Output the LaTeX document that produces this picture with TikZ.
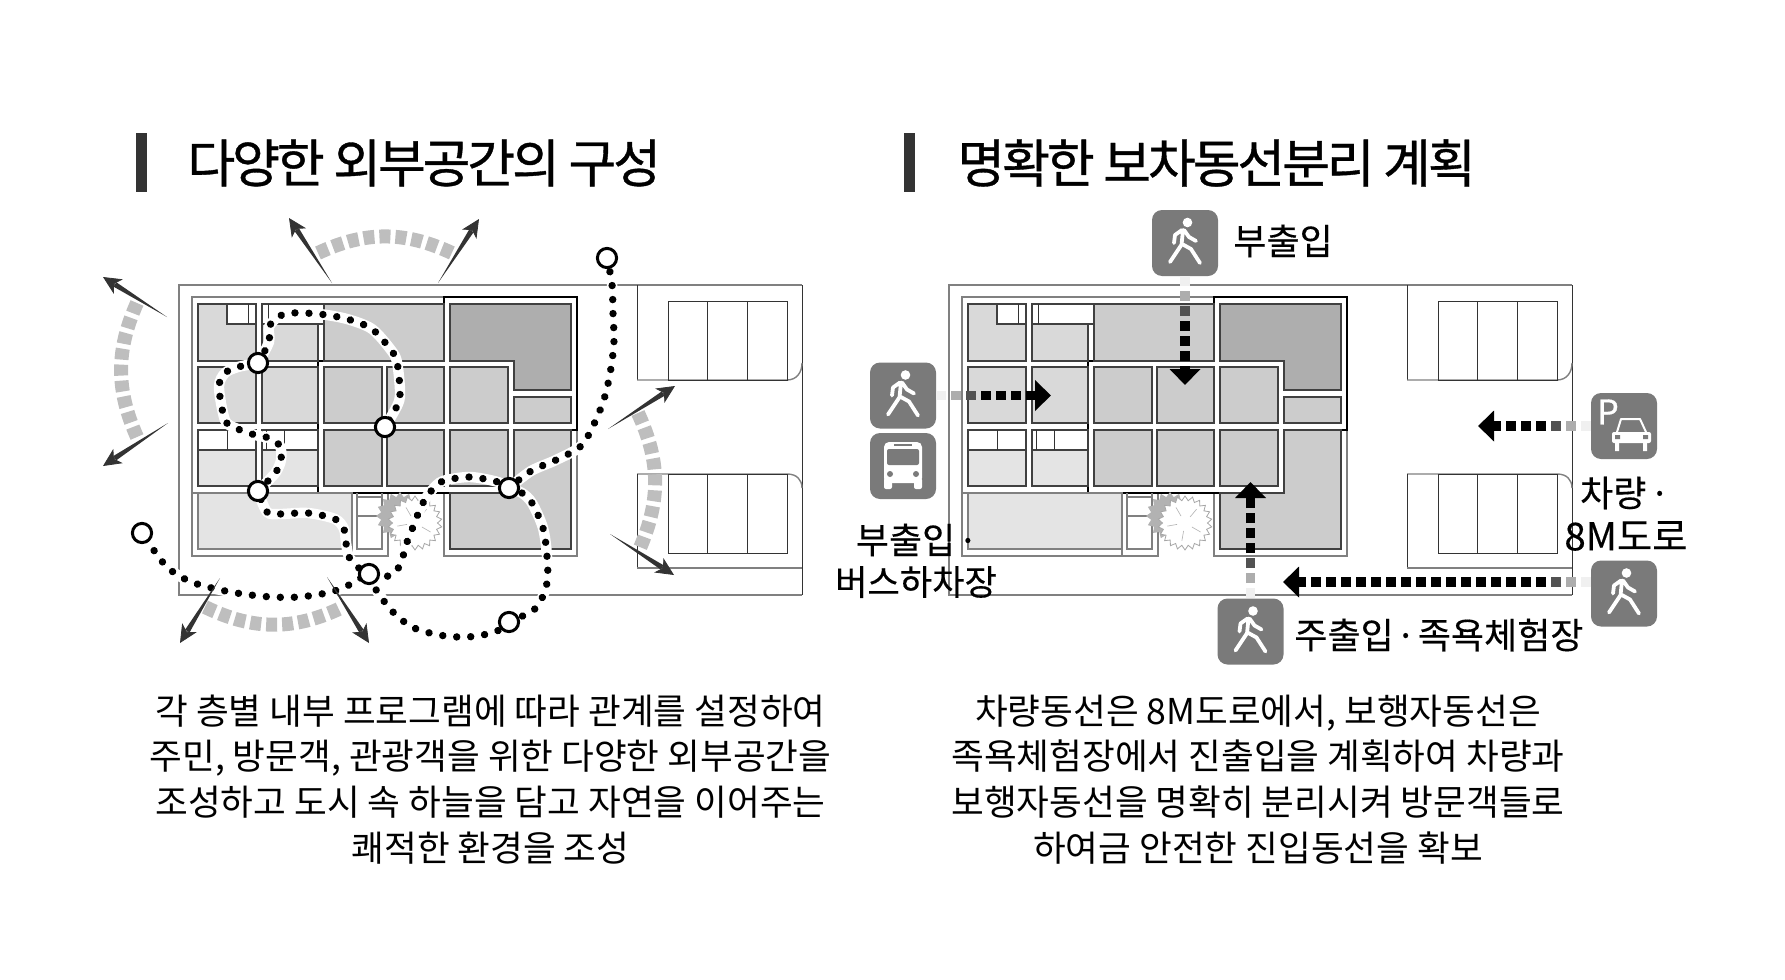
\documentclass[tikz,border=0pt]{standalone}
\usepackage{fontspec}
\setmainfont{Noto Sans CJK KR}
\usetikzlibrary{positioning,arrows.meta,calc,backgrounds,shapes.geometric}
\definecolor{iconbg}{HTML}{7A7A7A}
\definecolor{fanink}{HTML}{333333}
\definecolor{fanbar}{HTML}{BEBEBE}
\definecolor{lowcell}{HTML}{E4E4E4}
\definecolor{lightcell}{HTML}{D9D9D9}
\definecolor{midcell}{HTML}{CCCCCC}
\definecolor{darkcell}{HTML}{AEAEAE}
\tikzset{
  cell/.style={draw=black!75,line width=.7pt},
  greyline/.style={draw=black!50,line width=.7pt},
  thinline/.style={draw=black!80,line width=.5pt},
  blackline/.style={draw=black,line width=.7pt},
  walkdots/.style={preaction={draw=white,line width=5.2pt},draw=black,
    line width=3.7pt,line cap=round,dash pattern=on .01pt off 7pt},
  stop/.style={circle,draw=black,line width=1.5pt,fill=white,minimum size=9.6pt,inner sep=0pt},
  fanband/.style={draw=fanbar,line width=7pt,dash pattern=on 5.5pt off 2.5pt},
  iconbox/.style={rectangle,rounded corners=5pt,fill=iconbg,minimum size=33pt,inner sep=0pt},
  flowline/.style={draw=black,line width=4.8pt,dash pattern=on 5pt off 2.5pt,
    -{Triangle[length=8pt,width=15pt]}},
  title/.style={anchor=west,inner sep=0pt,font=\fontsize{26pt}{30pt}\selectfont\addfontfeature{LetterSpace=-6,FakeBold=.7}},
  label/.style={inner sep=0pt,font=\fontsize{18pt}{20pt}\selectfont\addfontfeature{FakeBold=.3}},
  body/.style={inner sep=0pt,align=center,font=\fontsize{17.8pt}{22.9pt}\selectfont},
  walker/.pic={
    \fill[white] (2.5,-20.5) circle (4.8);
    \draw[white,line width=1.9pt,line cap=round,line join=round]
      (-2,-13) -- (-3.5,2)
      (-3,-13) -- (-10,-8) -- (-11,0)
      (-1,-13) -- (4,-6) -- (11,-2)
      (-3,1) -- (-15,19)
      (-3,1) -- (6,6) -- (15,20);
  },
  busicon/.pic={
    \fill[white,rounded corners=2.5pt] (-19,-24) rectangle (19,17);
    \fill[white,rounded corners=1pt] (-19,12) rectangle (-11,23) (11,12) rectangle (19,23);
    \fill[iconbg,rounded corners=1pt] (-16,-17) rectangle (16,-1);
    \fill[iconbg] (-9,-22) rectangle (9,-20);
    \fill[iconbg] (-13,8) circle (3) (13,8) circle (3);
  },
  caricon/.pic={
    \node[inner sep=0pt,white,font=\fontsize{17pt}{18pt}\selectfont\addfontfeature{FakeBold=1}] (parkletter) at (-16,-14) {P};
    \draw[white,line width=1pt,line join=round] (-7,6) -- (-3,-7) -- (16,-7) -- (22,6);
    \fill[white,rounded corners=1pt] (-12,6) rectangle (27,17);
    \fill[white] (-9,17) rectangle (-5,25) (19,17) rectangle (23,25);
    \fill[iconbg] (-9,9) rectangle (-4,13) (19,9) rectangle (24,13);
  },
  siteplan/.pic={
    % site and parking
    \draw[greyline] (802,285) -- (179,285) -- (179,595) -- (802,595);
    \draw[thinline] (802,285) -- (802,595);
    \draw[thinline] (637,285) -- (637,380);
    \draw[greyline] (637,380) -- (787,380) .. controls (797,380) and (802,372) .. (802,363);
    \draw[greyline] (802,488) .. controls (802,480) and (797,474) .. (787,474) -- (637,474);
    \draw[thinline] (637,474) -- (637,568);
    \draw[greyline] (637,568) -- (802,568);
    \foreach \t in {301,474} {
      \draw[thinline] (668,\t) rectangle (787,\t+79);
      \draw[thinline] (707,\t) -- (707,\t+79) (747,\t) -- (747,\t+79);
    }
    % building outline
    \draw[greyline] (444,297) -- (192,297) -- (192,556) -- (388,556) -- (388,493);
    \draw[greyline] (192,493) -- (318,493);
    \draw[greyline] (444,493) -- (444,556) -- (577,556) -- (577,430);
    \draw[blackline] (318,361) -- (444,361) -- (444,297) -- (577,297) -- (577,430)
      -- (514,430) -- (514,493) -- (318,493) -- cycle;
    % rooms on the left
    \draw[cell,fill=lightcell] (198,304) rectangle (256,361);
    \draw[cell,fill=white] (227,304) rectangle (256,324);
    \draw[thinline] (248,304) -- (248,324);
    \draw[cell,fill=lightcell] (262,304) rectangle (318,361);
    \draw[cell,fill=white] (262,304) rectangle (324,324);
    \draw[thinline] (268,304) -- (268,324);
    \draw[cell,fill=lightcell] (198,367) rectangle (256,423);
    \draw[cell,fill=lightcell] (262,367) rectangle (318,423);
    \draw[cell,fill=lowcell] (198,430) rectangle (256,486);
    \draw[cell,fill=white] (198,430) rectangle (256,450);
    \draw[thinline] (227,430) -- (227,450);
    \draw[cell,fill=lowcell] (262,430) rectangle (318,486);
    \draw[cell,fill=white] (262,430) rectangle (318,450);
    \draw[thinline] (266,430) -- (266,450) (284,430) -- (284,450);
    \draw[greyline,fill=lowcell] (198,493) rectangle (352,549);
    \draw[greyline] (352,549) -- (352,556);
    \draw[greyline] (357,493) -- (357,549) -- (382,549) -- (382,493);
    \draw[greyline] (357,497) -- (382,497) (357,516) -- (382,516);
    % rooms in the middle
    \draw[cell,fill=midcell] (324,304) rectangle (444,361);
    \foreach \x/\w in {324/58,387/57,450/58} {
      \draw[cell,fill=midcell] (\x,367) rectangle (\x+\w,423);
      \draw[cell,fill=midcell] (\x,430) rectangle (\x+\w,486);
    }
    \draw[cell,fill=midcell] (514,397) rectangle (571,423);
    \draw[cell,fill=darkcell] (450,304) -- (571,304) -- (571,390) -- (514,390) -- (514,361) -- (450,361) -- cycle;
    \draw[cell,fill=midcell] (514,430) -- (571,430) -- (571,549) -- (450,549) -- (450,493) -- (514,493) -- cycle;
    % tree
    \node[star,star points=16,star point ratio=1.25,fill=black!30,minimum size=24pt,inner sep=0pt] (treeback) at (400,516) {};
    \node[star,star points=22,star point ratio=1.2,draw=black!35,line width=.4pt,fill=white,minimum size=27pt,inner sep=0pt] (treefront) at (415,523) {};
    \foreach \a in {30,100,...,310}
      \draw[black!30,line width=.3pt] (415,523) ++(\a:8) -- ++(\a:10);
  }
}
\newcommand{\fanarrow}[2]{%
  \fill[fanink] (#1) -- ($($(#2)!7pt!(#1)$)!1.3pt!90:(#1)$) -- ($($(#2)!7pt!(#1)$)!1.3pt!-90:(#1)$) -- cycle;
  \draw[fanink,line width=.4pt,-{Stealth[length=9pt,width=8.5pt,inset=2.5pt]}] ($(#2)!10pt!(#1)$) -- (#2);
}
\newcommand{\flowarrow}[2]{%
  \foreach \k/\g in {0/6,1/32,2/68}
    \draw[line width=4.8pt,black!\g] ($(#1)!\k*7.5pt!(#2)$) -- ($(#1)!\k*7.5pt+5pt!(#2)$);
  \draw[flowline] ($(#1)!22.5pt!(#2)$) -- (#2);
}
\begin{document}
\begin{tikzpicture}[x=.5pt,y=-.5pt,>=Stealth]
  \useasboundingbox (0,0) rectangle (1785,980);
  % stops of the walks
  \node[stop] (stoptop) at (607,258) {};
  \node[stop] (stopleft) at (142,533) {};
  \node[stop] (stopa) at (258,363) {};
  \node[stop] (stopb) at (385,427) {};
  \node[stop] (stopc) at (258,491) {};
  \node[stop] (stopd) at (509,488) {};
  \node[stop] (stope) at (369,574) {};
  \node[stop] (stopf) at (509,622) {};
  \begin{scope}[on background layer]
    \pic at (0,0) {siteplan};
    \pic at (770,0) {siteplan};
    \draw[walkdots] plot[smooth] coordinates {(stoptop) (612,284) (613,313) (614,341) (611,368) (605,396) (595,422) (581,446) (556,460) (531,471) (stopd)};
    \draw[walkdots] plot[smooth] coordinates {(stopd) (498,482) (470,477) (443,481) (432,490) (424,501) (418,514) (413,527) (408,539) (404,553) (399,567) (389,576) (stope) (353,583) (340,589) (327,593) (299,597) (272,597) (243,594) (216,589) (189,581) (166,566) (stopleft)};
    \draw[walkdots] plot[smooth] coordinates {(stopd) (522,493) (532,503) (543,528) (547,556) (547,583) (536,608) (stopf)};
    \draw[walkdots] plot[smooth] coordinates {(stopf) (495,632) (467,637) (439,635) (412,627) (391,610) (374,587) (358,567) (349,557) (346,543) (344,529) (335,519) (308,513) (280,514) (267,512) (stopc)};
    \draw[walkdots] plot[smooth] coordinates {(stopc) (266,483) (276,472) (281,460) (280,446) (269,438) (255,435) (229,425) (223,413) (219,386) (225,373) (238,367) (stopa)};
    \draw[walkdots] plot[smooth] coordinates {(stopa) (269,342) (269,327) (278,317) (291,313) (319,314) (347,319) (372,329) (391,350) (397,362) (400,390) (398,404) (stopb)};
  \end{scope}
  % fans round the left plan
  \foreach \n/\x/\y in {tla/332/283,tlb/289/218,tra/438/283,trb/479/219,
      lta/167/317,ltb/103/277,lba/168/423,lbb/103/466,
      bla/220/578,blb/180/643,bra/327/577,brb/369/643,
      rta/608/429,rtb/675/386,rba/610/534,rbb/674/575,
      fana/318/253,fanb/452/253,fanc/137/303,fand/137/437,
      fane/205/607,fanf/343/607,fang/638/413,fanh/640/548}
    \coordinate (\n) at (\x,\y);
  \draw[fanband] (fana) to[bend left=25] (fanb);
  \draw[fanband] (fanc) to[bend right=24] (fand);
  \draw[fanband] (fane) to[bend right=26] (fanf);
  \draw[fanband] (fang) to[bend left=24] (fanh);
  \fanarrow{tla}{tlb}
  \fanarrow{tra}{trb}
  \fanarrow{lta}{ltb}
  \fanarrow{lba}{lbb}
  \fanarrow{bla}{blb}
  \fanarrow{bra}{brb}
  \fanarrow{rta}{rtb}
  \fanarrow{rba}{rbb}
  % icons
  \node[iconbox] (walktop) at (1185,243) {};
  \node[iconbox] (walkleft) at (903,395.5) {};
  \node[iconbox] (busstop) at (903,466) {};
  \node[iconbox] (parking) at (1624,426) {};
  \node[iconbox] (walkright) at (1624,593.5) {};
  \node[iconbox] (walkbottom) at (1250.5,631.5) {};
  \pic at (walktop) {walker};
  \pic at (walkleft) {walker};
  \pic at (walkright) {walker};
  \pic at (walkbottom) {walker};
  \pic at (busstop) {busicon};
  \pic at (parking) {caricon};
  % flows
  \coordinate (tiptop) at (1185,385);
  \coordinate (tipleft) at (1051,395.5);
  \coordinate (tippark) at (1478,426);
  \coordinate (startroad) at (1591,582);
  \coordinate (tiproad) at (1283,582);
  \coordinate (tipbottom) at (1250.5,482);
  \flowarrow{walktop.south}{tiptop}
  \flowarrow{walkleft.east}{tipleft}
  \flowarrow{parking.west}{tippark}
  \flowarrow{startroad}{tiproad}
  \flowarrow{walkbottom.north}{tipbottom}
  % titles
  \fill[fanink] (136,133) rectangle (147,192);
  \fill[fanink] (904,133) rectangle (915,192);
  \node[title] (titleleft) at (187,163) {다양한 외부공간의 구성};
  \node[title] (titleright) at (957,163) {명확한 보차동선분리 계획};
  % labels
  \node[label,anchor=west] (labeltop) at (1233,241) {부출입};
  \node[label] (labelbusa) at (917,540) {부출입\hspace{-.15em} ·};
  \node[label,font=\fontsize{17.6pt}{20pt}\selectfont\addfontfeature{FakeBold=.3}] (labelbusb) at (916,582) {버스하차장};
  \node[label,anchor=west] (labelmain) at (1294,635) {주출입\hspace{-.17em} · \hspace{-.17em}족욕체험장};
  \node[label] (labelcara) at (1625,493) {차량\hspace{-.13em} ·};
  \node[label,font=\fontsize{19.2pt}{20pt}\selectfont\addfontfeature{FakeBold=.3}] (labelcarb) at (1626,536) {8M도로};
  % captions
  \node[body] (textleft) at (490.5,779.5) {각 층별 내부 프로그램에 따라 관계를 설정하여\\주민, 방문객, 관광객을 위한 다양한 외부공간을\\조성하고 도시 속 하늘을 담고 자연을 이어주는\\쾌적한 환경을 조성};
  \node[body] (textright) at (1258,779.5) {차량동선은 8M도로에서, 보행자동선은\\족욕체험장에서 진출입을 계획하여 차량과\\보행자동선을 명확히 분리시켜 방문객들로\\하여금 안전한 진입동선을 확보};
\end{tikzpicture}
\end{document}
